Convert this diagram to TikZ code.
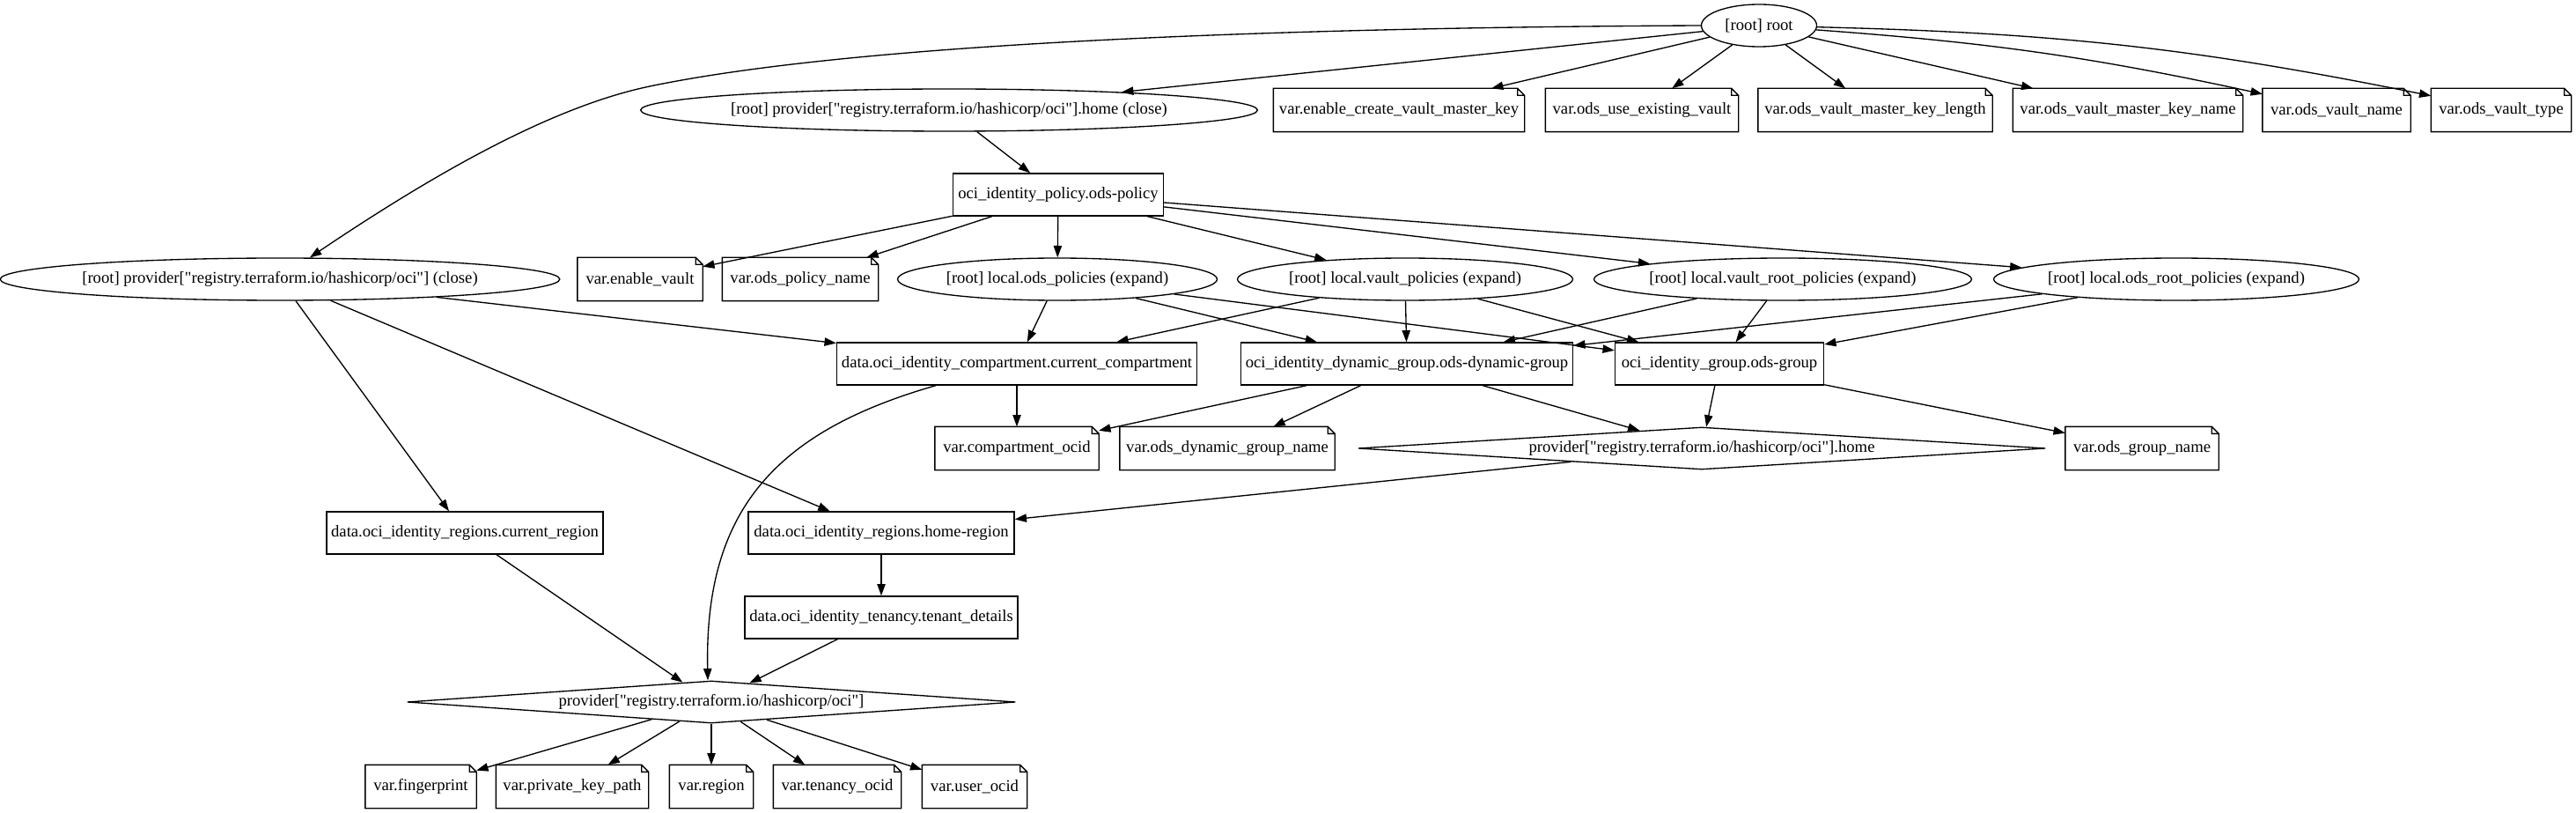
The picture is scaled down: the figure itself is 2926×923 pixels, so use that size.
\documentclass[tikz,border=0pt]{standalone}
\usepackage{fontspec}
\newfontfamily\gvfont{Liberation Serif}
\usetikzlibrary{shapes.geometric,arrows.meta,calc}
\begin{document}
\begin{tikzpicture}[x=0.75pt,y=-0.75pt,
  every node/.style={font=\gvfont\fontsize{14pt}{16pt}\selectfont, inner sep=0pt, minimum height=36pt, line width=1pt},
  boxn/.style={rectangle, draw},
  notn/.style={rectangle},
  ell/.style={ellipse, draw},
  dia/.style={diamond, draw, aspect=14},
  w/.style={minimum width={0.75pt*#1}},
  edge/.style={draw, line width=1pt, -{Triangle[length=10pt,width=7pt]}}]
\useasboundingbox (0,0) rectangle (2926,923);
\fill[white] (0,0) rectangle (2926,923);
% nodes
\node[ell,w=131] (root) at (1998,29) {[root] root};
\node[ell,w=689] (phc) at (1078,125) {[root] provider["registry.terraform.io/hashicorp/oci"].home (close)};
\node[notn,w=284] (vecvmk) at (1589,125) {var.enable\_create\_vault\_master\_key};
\node[notn,w=218] (vouev) at (1865,125) {var.ods\_use\_existing\_vault};
\node[notn,w=265] (vovmkl) at (2130,125) {var.ods\_vault\_master\_key\_length};
\node[notn,w=260] (vovmkn) at (2417,125) {var.ods\_vault\_master\_key\_name};
\node[notn,w=167] (vovn) at (2654,125) {var.ods\_vault\_name};
\node[notn,w=158] (vovt) at (2841,125) {var.ods\_vault\_type};
\node[boxn,w=239] (policy) at (1202,221) {oci\_identity\_policy.ods-policy};
\node[ell,w=626] (pc) at (318,317) {[root] provider["registry.terraform.io/hashicorp/oci"] (close)};
\node[notn,w=141] (vev) at (727,317) {var.enable\_vault};
\node[notn,w=176] (vopn) at (909,317) {var.ods\_policy\_name};
\node[ell,w=363] (lop) at (1201,317) {[root] local.ods\_policies (expand)};
\node[ell,w=381] (lvp) at (1596,317) {[root] local.vault\_policies (expand)};
\node[ell,w=429] (lvrp) at (2025,317) {[root] local.vault\_root\_policies (expand)};
\node[ell,w=415] (lorp) at (2472,317) {[root] local.ods\_root\_policies (expand)};
\node[boxn,w=409] (comp) at (1155,413) {data.oci\_identity\_compartment.current\_compartment};
\node[boxn,w=377] (dyn) at (1598,413) {oci\_identity\_dynamic\_group.ods-dynamic-group};
\node[boxn,w=237] (grp) at (1953,413) {oci\_identity\_group.ods-group};
\node[notn,w=185] (vco) at (1155,509) {var.compartment\_ocid};
\node[notn,w=243] (vodgn) at (1394,509) {var.ods\_dynamic\_group\_name};
\node[dia,w=781] (phd) at (1933,509) {provider["registry.terraform.io/hashicorp/oci"].home};
\node[notn,w=173] (vogn) at (2433,509) {var.ods\_group\_name};
\node[boxn,w=314] (cur) at (528,605) {data.oci\_identity\_regions.current\_region};
\node[boxn,w=302] (home) at (1001,605) {data.oci\_identity\_regions.home-region};
\node[boxn,w=310] (ten) at (1001,701) {data.oci\_identity\_tenancy.tenant\_details};
\node[dia,w=691] (pd) at (808,797) {provider["registry.terraform.io/hashicorp/oci"]};
\node[notn,w=125] (vfp) at (478,893) {var.fingerprint};
\node[notn,w=172] (vpkp) at (650,893) {var.private\_key\_path};
\node[notn,w=94] (vreg) at (808,893) {var.region};
\node[notn,w=144] (vto) at (951,893) {var.tenancy\_ocid};
\node[notn,w=118] (vuo) at (1107,893) {var.user\_ocid};
% note outlines
\foreach \n in {vecvmk,vouev,vovmkl,vovmkn,vovn,vovt,vev,vopn,vco,vodgn,vogn,vfp,vpkp,vreg,vto,vuo}
  \draw[line width=1pt] (\n.north west) -- ([xshift=-6pt]\n.north east) -- ([yshift=-6pt]\n.north east) -- (\n.south east) -- (\n.south west) -- cycle
        ([xshift=-6pt]\n.north east) -- ([xshift=-6pt,yshift=-6pt]\n.north east) -- ([yshift=-6pt]\n.north east);
% edges
\draw[edge] (root) -- (phc);
\draw[edge] (root) -- (vecvmk);
\draw[edge] (root) -- (vouev);
\draw[edge] (root) -- (vovmkl);
\draw[edge] (root) -- (vovmkn);
\draw[edge] (root) to[bend left=4] (vovn);
\draw[edge] (root) to[bend left=5] (vovt);
\coordinate (rc) at (738,98);
\draw[edge] (root.west) .. controls (1500,31) and (988,46) .. (rc)
  .. controls (618,123) and (476,209) .. ($(pc.north)+(34,0)$);
\draw[edge] (phc) -- (policy);
\foreach \t in {vev,vopn,lop,lvp,lvrp,lorp} \draw[edge] (policy) -- (\t);
\foreach \t in {comp,cur,home} \draw[edge] (pc) -- (\t);
\foreach \t in {comp,dyn,grp} \draw[edge] (lop) -- (\t);
\foreach \t in {comp,dyn,grp} \draw[edge] (lvp) -- (\t);
\foreach \t in {dyn,grp} \draw[edge] (lvrp) -- (\t);
\foreach \t in {dyn,grp} \draw[edge] (lorp) -- (\t);
\draw[edge] (comp) -- (vco);
\draw[edge] ($(comp.south)+(-92,0)$) .. controls (880,490) and (800,580) .. ($(pd.north)+(-4,0)$);
\foreach \t in {vco,vodgn,phd} \draw[edge] (dyn) -- (\t);
\foreach \t in {phd,vogn} \draw[edge] (grp) -- (\t);
\draw[edge] (phd) -- (home);
\draw[edge] (cur) -- (pd);
\draw[edge] (home) -- (ten);
\draw[edge] (ten) -- (pd);
\foreach \t in {vfp,vpkp,vreg,vto,vuo} \draw[edge] (pd) -- (\t);
\end{tikzpicture}
\end{document}
